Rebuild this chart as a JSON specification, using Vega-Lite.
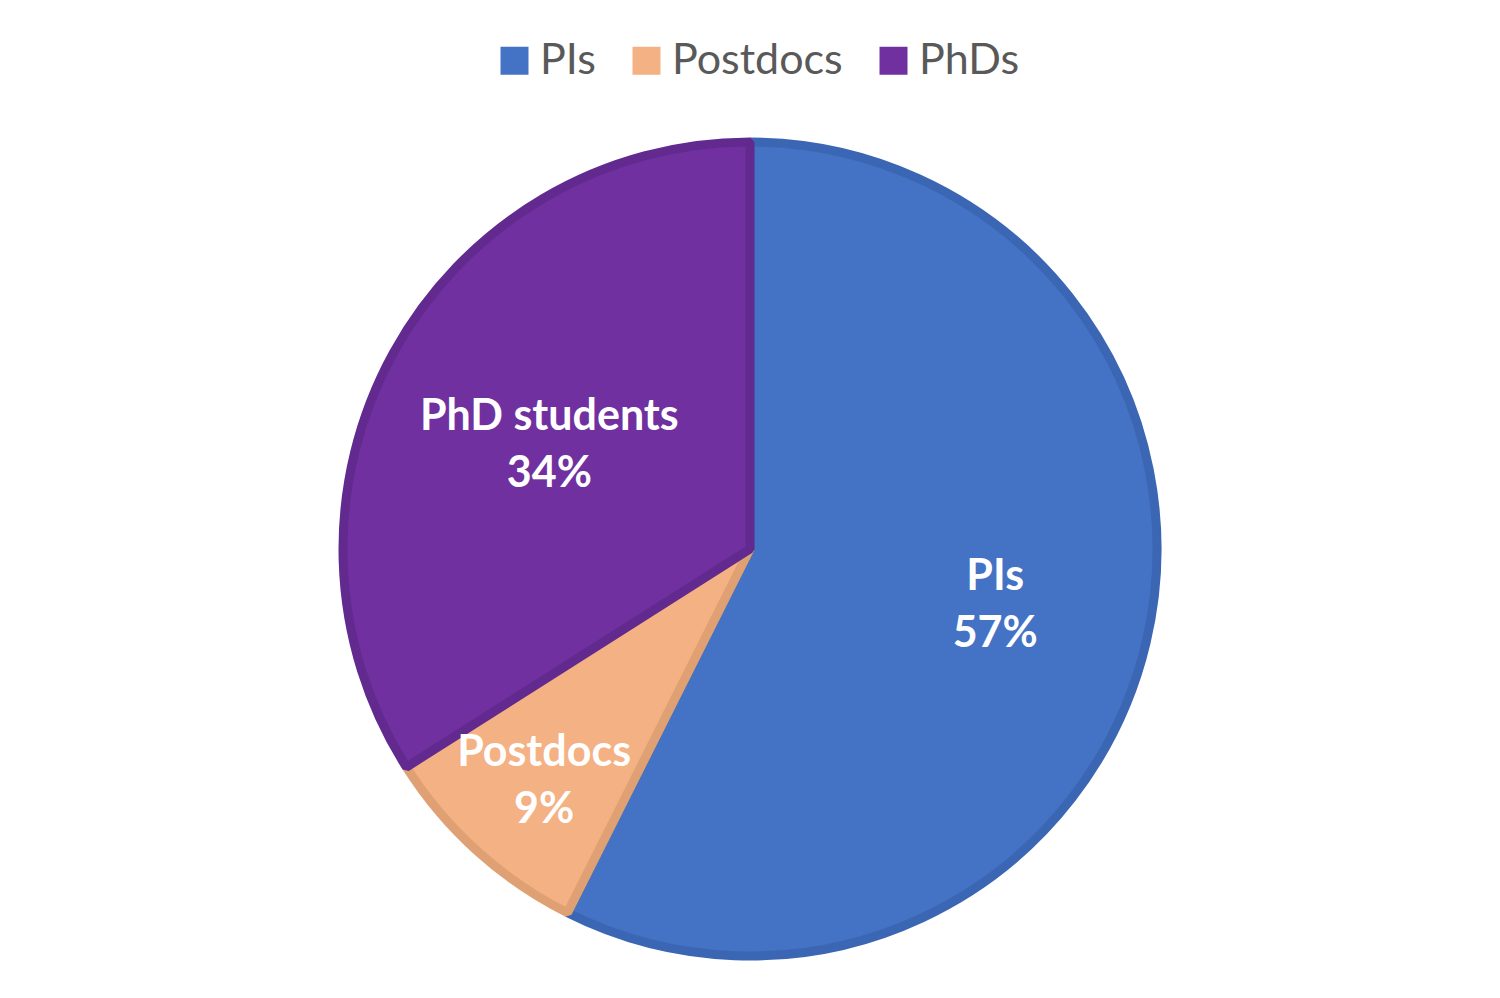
{
  "$schema": "https://vega.github.io/schema/vega-lite/v6.json",
  "width": 1500,
  "height": 898,
  "autosize": {"type": "none"},
  "padding": {"top": 100, "left": 0, "right": 0, "bottom": 0},
  "background": "white",
  "config": {
    "view": {"stroke": null},
    "legend": {
      "orient": "none",
      "legendX": 493,
      "legendY": -61,
      "direction": "horizontal",
      "symbolType": "square",
      "symbolSize": 784,
      "symbolStrokeWidth": 0,
      "labelFont": "Lato",
      "labelFontSize": 43,
      "labelColor": "#595959",
      "labelOffset": 4,
      "labelLimit": 0,
      "columnPadding": 29,
      "padding": 0,
      "title": null
    }
  },
  "data": {
    "values": [
      {"name": "PIs", "label": "PIs", "value": 57.4, "order": 1},
      {"name": "Postdocs", "label": "Postdocs", "value": 8.6, "order": 2},
      {"name": "PhDs", "label": "PhD students", "value": 34.0, "order": 3}
    ]
  },
  "transform": [
    {"calculate": "[datum.label, format(datum.value, '.0f') + '%']", "as": "lines"}
  ],
  "encoding": {
    "theta": {"field": "value", "type": "quantitative", "stack": true},
    "order": {"field": "order", "type": "quantitative"}
  },
  "layer": [
    {
      "mark": {"type": "arc", "outerRadius": 407, "strokeWidth": 9, "strokeJoin": "bevel"},
      "encoding": {
        "fill": {
          "field": "name",
          "type": "nominal",
          "sort": ["PIs", "Postdocs", "PhDs"],
          "scale": {"domain": ["PIs", "Postdocs", "PhDs"], "range": ["#4472C4", "#F4B183", "#7030A0"]},
          "legend": {"title": null}
        },
        "stroke": {
          "field": "name",
          "type": "nominal",
          "scale": {"domain": ["PIs", "Postdocs", "PhDs"], "range": ["#3B66B3", "#DFA173", "#622A8F"]},
          "legend": null
        }
      }
    },
    {
      "mark": {"type": "text", "radius": 252, "dy": -30, "font": "Lato", "fontWeight": "bold", "fontSize": 43, "lineHeight": 57, "color": "white", "baseline": "middle", "align": "center"},
      "encoding": {
        "text": {"condition": {"test": "datum.name !== 'PIs'", "value": ""}, "field": "lines"}
      }
    },
    {
      "mark": {"type": "text", "radius": 307, "dy": -24, "font": "Lato", "fontWeight": "bold", "fontSize": 43, "lineHeight": 57, "color": "white", "baseline": "middle", "align": "center"},
      "encoding": {
        "text": {"condition": {"test": "datum.name !== 'Postdocs'", "value": ""}, "field": "lines"}
      }
    },
    {
      "mark": {"type": "text", "radius": 229, "dy": -22, "font": "Lato", "fontWeight": "bold", "fontSize": 43, "lineHeight": 57, "color": "white", "baseline": "middle", "align": "center"},
      "encoding": {
        "text": {"condition": {"test": "datum.name !== 'PhDs'", "value": ""}, "field": "lines"}
      }
    }
  ]
}
